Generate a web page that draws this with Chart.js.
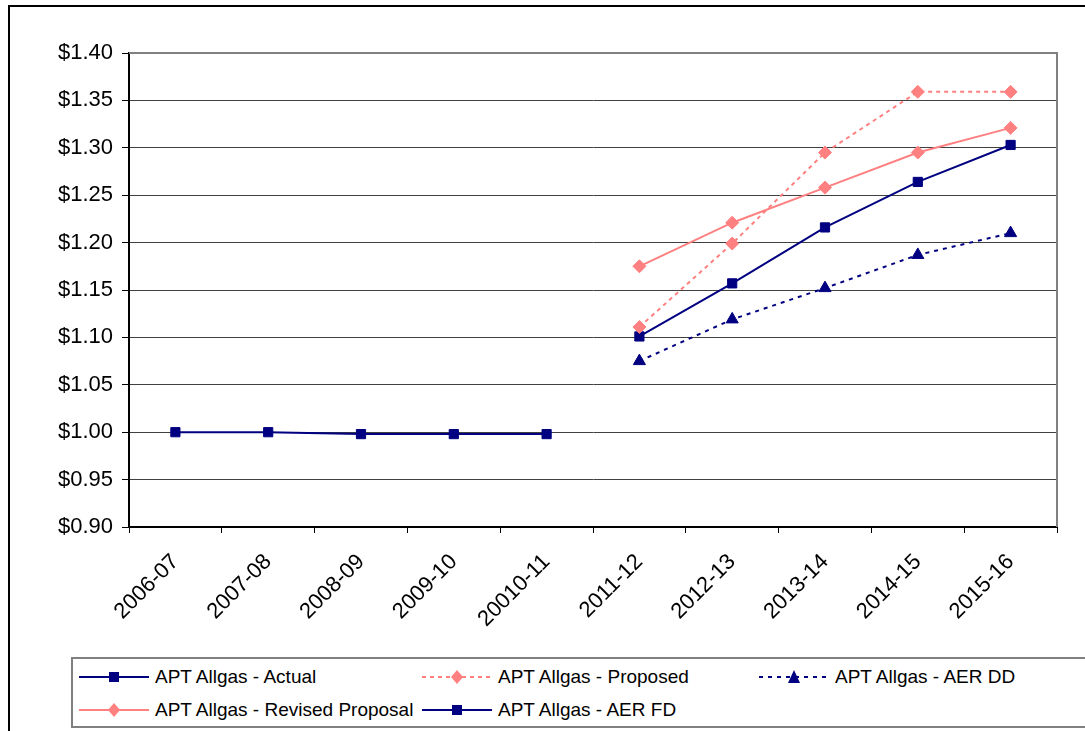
<!DOCTYPE html>
<html>
<head>
<meta charset="utf-8">
<script src="https://cdn.jsdelivr.net/npm/chart.js@4.4.1/dist/chart.umd.min.js"></script>
<style>
  body { margin: 0; background: #fff; }
  #wrap { position: relative; width: 1085px; height: 731px; overflow: hidden; font-family: 'Liberation Sans', Arial, sans-serif; }
  #frame { position: absolute; left: 8px; top: 5px; width: 1100px; height: 760px; border: 2px solid #000; box-sizing: border-box; }
  #legend { position: absolute; left: 71px; top: 657px; width: 1040px; height: 71px; border: 2px solid #808080; box-sizing: border-box; background: #fff; }
  .item { position: absolute; height: 22px; display: flex; align-items: center; font-size: 19px; color: #000; white-space: nowrap; }
  .item svg { margin-right: 6px; }
  canvas { position: absolute; left: 0; top: 0; }
</style>
</head>
<body>
<div id="wrap">
  <div id="frame"></div>
  <canvas id="chart" width="1085" height="731"></canvas>
  <div id="legend"></div>
</div>
<script>
const categories = ['2006-07', '2007-08', '2008-09', '2009-10', '20010-11', '2011-12', '2012-13', '2013-14', '2014-15', '2015-16']
const actual = [1.000, 1.000, 0.998, 0.998, 0.998, null, null, null, null, null]
const proposed = [null, null, null, null, null, 1.111, 1.199, 1.295, 1.359, 1.359]
const revised = [null, null, null, null, null, 1.175, 1.221, 1.258, 1.295, 1.321]
const aerDd = [null, null, null, null, null, 1.075, 1.119, 1.152, 1.187, 1.210]
const aerFd = [null, null, null, null, null, 1.101, 1.157, 1.216, 1.264, 1.303]
const yTicks = [0.90, 0.95, 1.00, 1.05, 1.10, 1.15, 1.20, 1.25, 1.30, 1.35, 1.40]

const navy = '#000080'
const pink = '#ff8080'

const series = [
  { label: 'APT Allgas - Actual', data: actual, color: navy, dash: [], marker: 'rect', radius: 6.5 },
  { label: 'APT Allgas - Proposed', data: proposed, color: pink, dash: [4, 4], marker: 'rectRot', radius: 6.5 },
  { label: 'APT Allgas - AER DD', data: aerDd, color: navy, dash: [4, 5], marker: 'triangle', radius: 7 },
  { label: 'APT Allgas - Revised Proposal', data: revised, color: pink, dash: [], marker: 'rectRot', radius: 6.5 },
  { label: 'APT Allgas - AER FD', data: aerFd, color: navy, dash: [], marker: 'rect', radius: 6.5 }
]

// grey frame on the top and right of the plot area, like the excel plot area
const plotFrame = {
  id: 'plotFrame',
  afterDraw(chart) {
    const a = chart.chartArea
    const ctx = chart.ctx
    ctx.save()
    ctx.strokeStyle = '#808080'
    ctx.lineWidth = 2
    ctx.beginPath()
    ctx.moveTo(a.left, a.top)
    ctx.lineTo(a.right, a.top)
    ctx.lineTo(a.right, a.bottom)
    ctx.stroke()
    ctx.restore()
  }
}

const ctx = document.getElementById('chart').getContext('2d')
const chart = new Chart(ctx, {
  type: 'line',
  data: {
    labels: categories,
    datasets: series.map(s => ({
      label: s.label,
      data: s.data,
      borderColor: s.color,
      backgroundColor: s.color,
      borderWidth: 2,
      borderDash: s.dash,
      pointStyle: s.marker,
      pointRadius: s.radius,
      pointBorderWidth: 1,
      pointBorderColor: s.color,
      pointBackgroundColor: s.color,
      spanGaps: false,
      tension: 0
    }))
  },
  options: {
    responsive: false,
    animation: false,
    layout: { padding: { left: 0, top: 53, right: 28, bottom: 104 } },
    plugins: {
      legend: { display: false },
      tooltip: { enabled: false }
    },
    scales: {
      x: {
        type: 'category',
        offset: true,
        afterFit: (scale) => { scale.height = 100 },
        grid: { offset: true, drawOnChartArea: false, tickLength: 6, color: '#000', lineWidth: 1 },
        border: { color: '#000', width: 2 },
        ticks: {
          color: '#000',
          font: { family: "'Liberation Sans', Arial, sans-serif", size: 22 },
          minRotation: 45,
          maxRotation: 45,
          padding: 16,
          autoSkip: false
        }
      },
      y: {
        min: 0.9,
        max: 1.4,
        afterFit: (scale) => { scale.width = 129 },
        afterBuildTicks: (scale) => { scale.ticks = yTicks.map(v => ({ value: v })) },
        grid: { color: '#404040', lineWidth: 1, tickLength: 7, tickColor: '#000' },
        border: { color: '#000', width: 2 },
        ticks: {
          color: '#000',
          padding: 9,
          font: { family: "'Liberation Sans', Arial, sans-serif", size: 22 },
          callback: (v) => '$' + Number(v).toFixed(2)
        }
      }
    }
  },
  plugins: [plotFrame]
})

// legend in a box, three columns like the excel one
const legendPos = [
  [6, 7], [349, 7], [686, 7],
  [6, 40], [349, 40]
]
function markerSvg(s) {
  let dash = s.dash.length ? `stroke-dasharray="${s.dash.join(' ')}"` : ''
  let mark = ''
  if (s.marker === 'rect') mark = `<rect x="30" y="6" width="10" height="10" fill="${s.color}"/>`
  if (s.marker === 'rectRot') mark = `<polygon points="35,4 41,11 35,18 29,11" fill="${s.color}"/>`
  if (s.marker === 'triangle') mark = `<polygon points="35,4 41,17 29,17" fill="${s.color}"/>`
  return `<svg width="70" height="22"><line x1="0" y1="11" x2="70" y2="11" stroke="${s.color}" stroke-width="2" ${dash}/>${mark}</svg>`
}
const legendEl = document.getElementById('legend')
series.forEach((s, i) => {
  const d = document.createElement('div')
  d.className = 'item'
  d.style.left = legendPos[i][0] + 'px'
  d.style.top = legendPos[i][1] + 'px'
  d.innerHTML = markerSvg(s) + '<span>' + s.label + '</span>'
  legendEl.appendChild(d)
})
</script>
</body>
</html>
